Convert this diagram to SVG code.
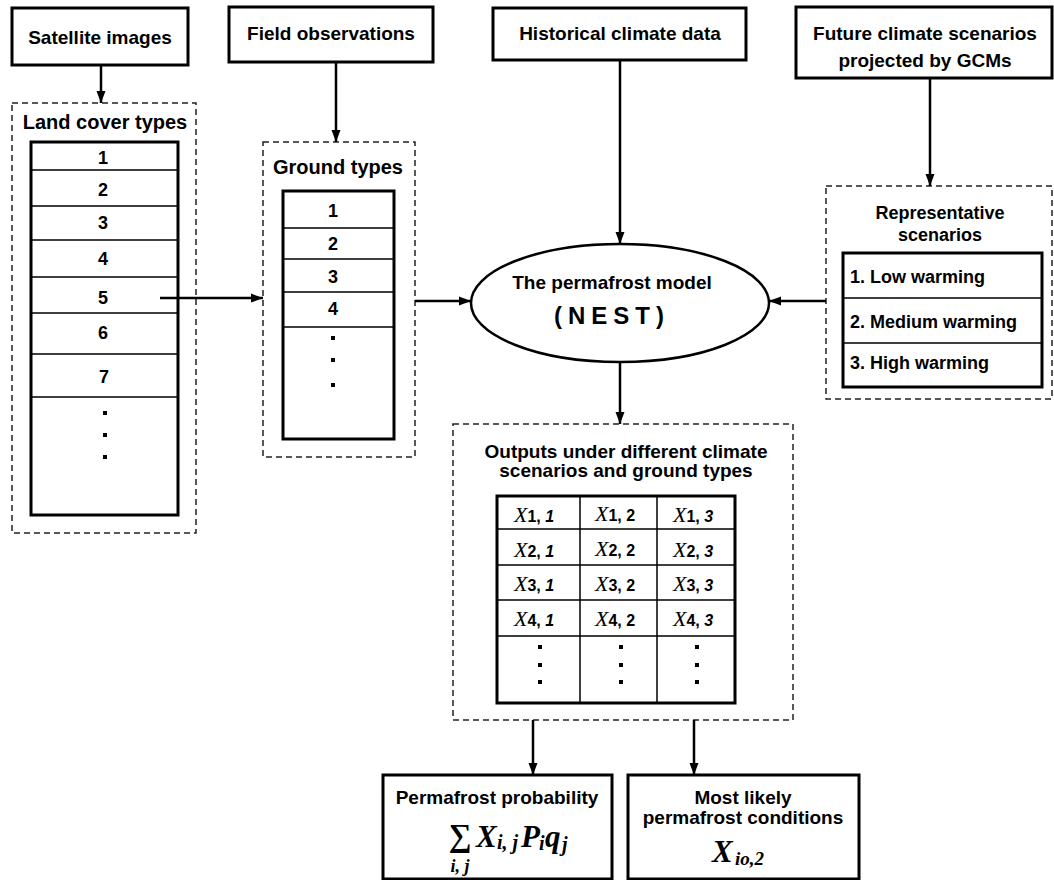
<svg xmlns="http://www.w3.org/2000/svg" width="1054" height="880" viewBox="0 0 1054 880">
<defs>
<style>
.box{fill:#fff;stroke:#000;stroke-width:3}
.dash{fill:none;stroke:#222;stroke-width:1.5;stroke-dasharray:6,4}
.tbl{fill:#fff;stroke:#000;stroke-width:3}
.row{stroke:#000;stroke-width:1.5;fill:none}
.t{font-family:"Liberation Sans",Arial,sans-serif;font-weight:bold;font-size:19px;fill:#000;text-anchor:middle}
.tl{font-family:"Liberation Sans",Arial,sans-serif;font-weight:bold;font-size:18px;fill:#000}
.n{font-family:"Liberation Sans",Arial,sans-serif;font-weight:bold;font-size:18px;fill:#000;text-anchor:middle}
.cx{font-family:"Liberation Serif","Times New Roman",serif;font-style:italic;font-size:22px;fill:#000}
.cs{font-family:"Liberation Sans",Arial,sans-serif;font-weight:bold;font-size:16px;fill:#000}
.f{font-family:"Liberation Serif","Times New Roman",serif;font-style:italic;font-weight:bold;fill:#000}
.conn{stroke:#000;stroke-width:2.5;fill:none;marker-end:url(#ah)}
.dot{fill:#000}
</style>
<marker id="ah" markerWidth="12" markerHeight="10" refX="12" refY="5" orient="auto" markerUnits="userSpaceOnUse">
<path d="M0,0.5 L12,5 L0,9.5 z" fill="#000"/>
</marker>
</defs>
<rect width="1054" height="880" fill="#fff"/>

<g id="satellite">
<rect class="box" x="12" y="8" width="176" height="57"/>
<text class="t" x="100" y="44">Satellite images</text>
</g>
<g id="field">
<rect class="box" x="229" y="7" width="204" height="55"/>
<text class="t" x="331" y="40">Field observations</text>
</g>
<g id="historical">
<rect class="box" x="493" y="8" width="253" height="52"/>
<text class="t" x="620" y="40">Historical climate data</text>
</g>
<g id="future">
<rect class="box" x="796" y="7" width="256" height="71"/>
<text class="t" x="925" y="40">Future climate scenarios</text>
<text class="t" x="925" y="67">projected by GCMs</text>
</g>

<g id="landcover">
<rect class="dash" x="12" y="103" width="184" height="430"/>
<text class="t" x="105" y="129" style="font-size:20px">Land cover types</text>
<rect class="tbl" x="31" y="142" width="147" height="373"/>
<path class="row" d="M31 170H178M31 206H178M31 240H178M31 277H178M31 313H178M31 354H178M31 397H178"/>
<text class="n" x="103" y="164">1</text>
<text class="n" x="103" y="196">2</text>
<text class="n" x="103" y="229">3</text>
<text class="n" x="103" y="265">4</text>
<text class="n" x="103" y="304">5</text>
<text class="n" x="103" y="339">6</text>
<text class="n" x="104" y="383">7</text>
<rect class="dot" x="103" y="411" width="4" height="4"/>
<rect class="dot" x="103" y="433" width="4" height="4"/>
<rect class="dot" x="103" y="455" width="4" height="4"/>
</g>

<g id="groundtypes">
<rect class="dash" x="263" y="142" width="152" height="315"/>
<text class="t" x="338" y="174" style="font-size:20px">Ground types</text>
<rect class="tbl" x="283" y="191" width="111" height="248"/>
<path class="row" d="M283 228H394M283 259H394M283 292H394M283 327H394"/>
<text class="n" x="333" y="217">1</text>
<text class="n" x="333" y="250">2</text>
<text class="n" x="333" y="283">3</text>
<text class="n" x="333" y="315">4</text>
<rect class="dot" x="331" y="336" width="4" height="4"/>
<rect class="dot" x="331" y="358" width="4" height="4"/>
<rect class="dot" x="331" y="383" width="4" height="4"/>
</g>

<g id="model">
<ellipse cx="620" cy="303" rx="149" ry="59" fill="#fff" stroke="#000" stroke-width="2.5"/>
<text class="t" x="612" y="289" style="font-size:19px">The permafrost  model</text>
<text class="t" x="612" y="324" style="font-size:24px;letter-spacing:6px">(NEST)</text>
</g>

<g id="representative">
<rect class="dash" x="826" y="186" width="226" height="213"/>
<text class="t" x="940" y="219" style="font-size:18px">Representative</text>
<text class="t" x="940" y="241" style="font-size:18px">scenarios</text>
<rect class="tbl" x="843" y="253" width="199" height="134"/>
<path class="row" d="M843 298H1042M843 343H1042"/>
<text class="tl" x="850" y="283">1. Low warming</text>
<text class="tl" x="850" y="328">2. Medium warming</text>
<text class="tl" x="850" y="369">3. High warming</text>
</g>

<g id="outputs">
<rect class="dash" x="453" y="424" width="340" height="296"/>
<text class="t" x="626" y="458">Outputs under different climate</text>
<text class="t" x="626" y="477">scenarios and ground types</text>
<rect class="tbl" x="497" y="496" width="238" height="207"/>
<path class="row" d="M580 496V703M657 496V703M497 529H735M497 565H735M497 600H735M497 636H735"/>
<text x="514" y="522"><tspan class="cx">X</tspan><tspan class="cs">1, </tspan><tspan class="cs" font-style="italic">1</tspan></text>
<text x="595" y="521"><tspan class="cx">X</tspan><tspan class="cs">1, 2</tspan></text>
<text x="673" y="522"><tspan class="cx">X</tspan><tspan class="cs">1, </tspan><tspan class="cs" font-style="italic">3</tspan></text>
<text x="514" y="557"><tspan class="cx">X</tspan><tspan class="cs">2, </tspan><tspan class="cs" font-style="italic">1</tspan></text>
<text x="595" y="556"><tspan class="cx">X</tspan><tspan class="cs">2, 2</tspan></text>
<text x="673" y="557"><tspan class="cx">X</tspan><tspan class="cs">2, </tspan><tspan class="cs" font-style="italic">3</tspan></text>
<text x="514" y="591"><tspan class="cx">X</tspan><tspan class="cs">3, </tspan><tspan class="cs" font-style="italic">1</tspan></text>
<text x="595" y="591"><tspan class="cx">X</tspan><tspan class="cs">3, 2</tspan></text>
<text x="673" y="591"><tspan class="cx">X</tspan><tspan class="cs">3, </tspan><tspan class="cs" font-style="italic">3</tspan></text>
<text x="514" y="626"><tspan class="cx">X</tspan><tspan class="cs">4, </tspan><tspan class="cs" font-style="italic">1</tspan></text>
<text x="595" y="626"><tspan class="cx">X</tspan><tspan class="cs">4, 2</tspan></text>
<text x="673" y="626"><tspan class="cx">X</tspan><tspan class="cs">4, </tspan><tspan class="cs" font-style="italic">3</tspan></text>
<rect class="dot" x="538" y="645" width="4" height="4"/>
<rect class="dot" x="538" y="663" width="4" height="4"/>
<rect class="dot" x="538" y="680" width="4" height="4"/>
<rect class="dot" x="619" y="645" width="4" height="4"/>
<rect class="dot" x="619" y="663" width="4" height="4"/>
<rect class="dot" x="619" y="680" width="4" height="4"/>
<rect class="dot" x="695" y="645" width="4" height="4"/>
<rect class="dot" x="695" y="663" width="4" height="4"/>
<rect class="dot" x="695" y="680" width="4" height="4"/>
</g>

<g id="probability">
<rect class="box" x="383" y="775" width="229" height="104"/>
<text class="t" x="497" y="804">Permafrost probability</text>
<text class="f" x="460" y="846" font-size="32" font-weight="normal" font-style="normal" text-anchor="middle">∑</text>
<text class="f" x="460" y="872" font-size="18" text-anchor="middle">i, j</text>
<text class="f" x="476" y="847" font-size="31">X</text>
<text class="f" x="497" y="849" font-size="20">i, j</text>
<text class="f" x="521" y="847" font-size="31">P</text>
<text class="f" x="539" y="850" font-size="20">i</text>
<text class="f" x="545" y="847" font-size="31">q</text>
<text class="f" x="562" y="851" font-size="20">j</text>
</g>

<g id="likely">
<rect class="box" x="628" y="775" width="231" height="104"/>
<text class="t" x="743" y="804">Most likely</text>
<text class="t" x="743" y="824">permafrost conditions</text>
<text class="f" x="712" y="862" font-size="31">X</text>
<text class="f" x="735" y="865" font-size="19">io,2</text>
</g>

<g id="connectors">
<line class="conn" x1="101" y1="65" x2="101" y2="103"/>
<line class="conn" x1="336" y1="62" x2="336" y2="142"/>
<line class="conn" x1="620" y1="60" x2="620" y2="244"/>
<line class="conn" x1="930" y1="78" x2="930" y2="186"/>
<line class="conn" x1="160" y1="298" x2="263" y2="298"/>
<line class="conn" x1="415" y1="301" x2="471" y2="301"/>
<line class="conn" x1="826" y1="301" x2="769" y2="301"/>
<line class="conn" x1="620" y1="362" x2="620" y2="424"/>
<line class="conn" x1="533" y1="720" x2="533" y2="775"/>
<line class="conn" x1="694" y1="720" x2="694" y2="775"/>
</g>
</svg>
